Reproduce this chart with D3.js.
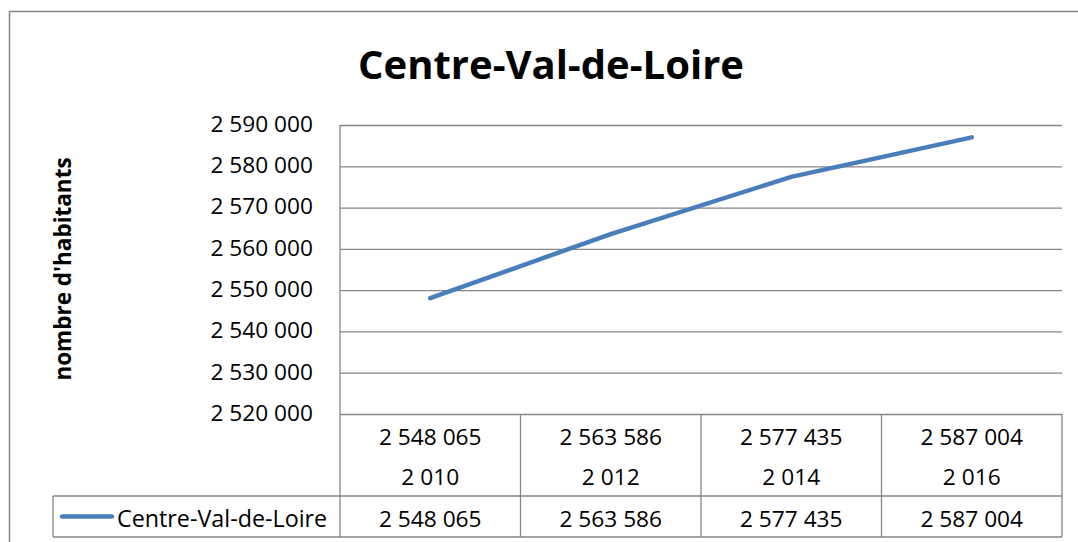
<!DOCTYPE html>
<html>
<head>
<meta charset="utf-8">
<script src="https://cdn.jsdelivr.net/npm/d3@7"></script>
<style>
  body { margin: 0; background: #fff; }
  svg text { font-family: "Open Sans", sans-serif; fill: #000; }
</style>
</head>
<body>
<svg width="1078" height="542"></svg>
<script>
// data
const seriesName = "Centre-Val-de-Loire";
const years = [2010, 2012, 2014, 2016];
const habitants = [2548065, 2563586, 2577435, 2587004];
const yTicks = [2520000, 2530000, 2540000, 2550000, 2560000, 2570000, 2580000, 2590000];

const plot = { left: 340, right: 1062, top: 125, bottom: 414 };
const tableRow = 41; // height of each data table row
const legendLeft = 53;
const gridColor = "#868686";
const fontSize = "22.7px";

const fr = d3.formatLocale({ decimal: ",", thousands: "\u00a0", grouping: [3], currency: ["", " €"] });
const fmt = fr.format(",d");

var svg = d3.select("svg");

// outer chart border (runs off the right / bottom of the picture)
svg.append("rect")
  .attr("x", 9.5).attr("y", 11.5)
  .attr("width", 1100).attr("height", 600)
  .attr("fill", "none").attr("stroke", gridColor).attr("stroke-width", 1.5);

// title
svg.append("text")
  .attr("x", 551).attr("y", 79)
  .attr("text-anchor", "middle")
  .style("font-size", "40px").style("font-weight", "bold")
  .text(seriesName);

var x = d3.scaleBand().domain(years).range([plot.left, plot.right]);
var y = d3.scaleLinear().domain([2520000, 2590000]).range([plot.bottom, plot.top]);

// gridlines + y tick labels
var yAxis = svg.append("g")
  .attr("transform", `translate(${plot.left},0)`)
  .call(d3.axisLeft(y).tickValues(yTicks).tickSize(-(plot.right - plot.left)).tickPadding(27).tickFormat(fmt));
yAxis.select(".domain").remove();
yAxis.selectAll(".tick line").attr("stroke", gridColor).attr("stroke-width", 1.3);
yAxis.selectAll(".tick text")
  .style("font-size", fontSize).attr("dy", "0.28em")
  .style("font-family", "'Open Sans', sans-serif");

// y axis title
svg.append("text")
  .attr("transform", "translate(71,269) rotate(-90)")
  .attr("text-anchor", "middle")
  .style("font-size", "22.5px").style("font-weight", "bold")
  .text("nombre d'habitants");

// data table lines
var tableBottom = plot.bottom + tableRow * 3;
var lines = svg.append("g").attr("stroke", gridColor).attr("stroke-width", 1.3);
lines.append("line").attr("x1", plot.left).attr("x2", plot.left).attr("y1", plot.top).attr("y2", tableBottom);
years.forEach(yr => {
  var xr = x(yr) + x.bandwidth();
  lines.append("line").attr("x1", xr).attr("x2", xr).attr("y1", plot.bottom).attr("y2", tableBottom);
});
lines.append("line").attr("x1", legendLeft).attr("x2", plot.right)
  .attr("y1", plot.bottom + tableRow * 2).attr("y2", plot.bottom + tableRow * 2);
lines.append("line").attr("x1", legendLeft).attr("x2", plot.right)
  .attr("y1", tableBottom).attr("y2", tableBottom);
lines.append("line").attr("x1", legendLeft).attr("x2", legendLeft)
  .attr("y1", plot.bottom + tableRow * 2).attr("y2", tableBottom);

// data table text
var cells = svg.append("g").style("font-size", fontSize).attr("text-anchor", "middle");
years.forEach((yr, i) => {
  var cx = x(yr) + x.bandwidth() / 2;
  cells.append("text").attr("x", cx).attr("y", plot.bottom + 31).text(fmt(habitants[i]));
  cells.append("text").attr("x", cx).attr("y", plot.bottom + 71).text(fmt(yr));
  cells.append("text").attr("x", cx).attr("y", plot.bottom + tableRow * 2 + 31).text(fmt(habitants[i]));
});

// legend key
var legendY = plot.bottom + tableRow * 2 + tableRow / 2;
svg.append("line")
  .attr("x1", 62).attr("x2", 112).attr("y1", legendY).attr("y2", legendY)
  .attr("stroke", "#4A7EBB").attr("stroke-width", 4.5).attr("stroke-linecap", "round");
svg.append("text")
  .attr("x", 117).attr("y", plot.bottom + tableRow * 2 + 31)
  .style("font-size", "23.3px")
  .text(seriesName);

// the line
var line = d3.line()
  .x((d, i) => x(years[i]) + x.bandwidth() / 2)
  .y(d => y(d));
svg.append("path")
  .datum(habitants)
  .attr("d", line)
  .attr("fill", "none")
  .attr("stroke", "#4A7EBB")
  .attr("stroke-width", 4.5)
  .attr("stroke-linecap", "round")
  .attr("stroke-linejoin", "round");
</script>
</body>
</html>
